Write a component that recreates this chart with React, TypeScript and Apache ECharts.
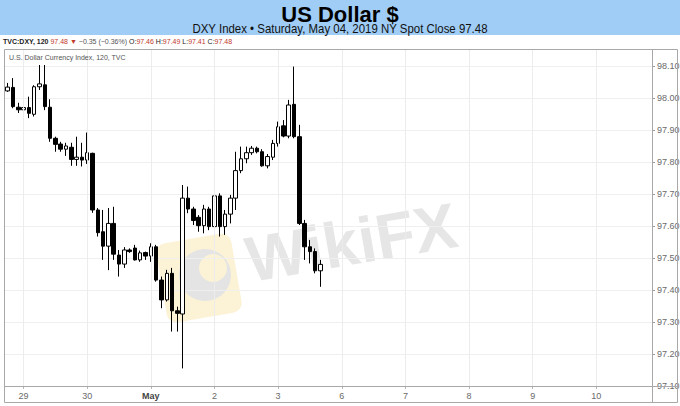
import React, { useEffect, useRef } from 'react';
import * as echarts from 'echarts';

// 120-minute candles, O / C / L / H
const opens = [
  98.022, 98.033, 97.971, 97.963, 97.970, 97.949, 98.035, 98.041, 97.971, 97.874,
  97.856, 97.840, 97.846, 97.808, 97.815, 97.806, 97.827, 97.650, 97.582, 97.537,
  97.608, 97.509, 97.481, 97.525, 97.531, 97.494, 97.517, 97.506, 97.535, 97.431,
  97.369, 97.452, 97.335, 97.325, 97.687, 97.653, 97.627, 97.601, 97.653, 97.598,
  97.694, 97.598, 97.637, 97.687, 97.773, 97.810, 97.829, 97.843, 97.832, 97.788,
  97.815, 97.858, 97.913, 97.881, 97.980, 97.879, 97.608, 97.535, 97.520, 97.460,
];
const closes = [
  98.034, 97.973, 97.963, 97.970, 97.952, 98.035, 98.044, 97.973, 97.874, 97.855,
  97.840, 97.850, 97.808, 97.815, 97.806, 97.829, 97.650, 97.579, 97.537, 97.608,
  97.512, 97.481, 97.525, 97.520, 97.494, 97.516, 97.506, 97.535, 97.431, 97.369,
  97.452, 97.335, 97.327, 97.687, 97.653, 97.617, 97.601, 97.653, 97.598, 97.694,
  97.598, 97.637, 97.687, 97.773, 97.810, 97.829, 97.843, 97.832, 97.788, 97.817,
  97.858, 97.910, 97.881, 97.978, 97.879, 97.608, 97.535, 97.520, 97.460, 97.480,
];
const lows = [
  98.019, 97.968, 97.953, 97.922, 97.937, 97.942, 98.025, 97.962, 97.863, 97.832,
  97.832, 97.819, 97.788, 97.788, 97.786, 97.794, 97.641, 97.567, 97.494, 97.462,
  97.494, 97.442, 97.469, 97.516, 97.492, 97.488, 97.494, 97.488, 97.426, 97.343,
  97.364, 97.270, 97.270, 97.155, 97.640, 97.603, 97.582, 97.577, 97.587, 97.582,
  97.567, 97.572, 97.608, 97.650, 97.765, 97.796, 97.822, 97.827, 97.785, 97.780,
  97.806, 97.848, 97.877, 97.874, 97.874, 97.603, 97.494, 97.483, 97.452, 97.410,
];
const highs = [
  98.047, 98.062, 97.985, 97.985, 98.004, 98.040, 98.103, 98.103, 97.996, 97.879,
  97.863, 97.860, 97.860, 97.879, 97.860, 97.892, 97.829, 97.656, 97.650, 97.656,
  97.660, 97.525, 97.534, 97.530, 97.541, 97.523, 97.520, 97.546, 97.541, 97.442,
  97.463, 97.469, 97.348, 97.728, 97.723, 97.660, 97.634, 97.666, 97.660, 97.702,
  97.702, 97.650, 97.697, 97.832, 97.848, 97.848, 97.850, 97.848, 97.840, 97.825,
  97.869, 97.926, 97.931, 97.994, 98.098, 97.916, 97.619, 97.556, 97.530, 97.494,
];

const slotCount = 122;
const dayLabelIndex = [3, 15, 27, 39, 51, 63, 75, 87, 99, 111];
const dayLabels = ['29', '30', 'May', '2', '3', '6', '7', '8', '9', '10'];
const lastClose = 97.48;
const yMin = 97.1;
const yMax = 98.153;
const yStep = 0.1;

const FONT = "'Liberation Sans', Arial, sans-serif";

export default function App() {
  const ref = useRef<HTMLDivElement>(null);

  useEffect(() => {
    document.body.style.margin = '0';
    const chart = echarts.init(ref.current!, null, { renderer: 'svg' });
    const categories = Array.from({ length: slotCount }, (_, i) => String(i));
    const candleData = opens.map((o, i) => [o, closes[i], lows[i], highs[i]]);
    const labelMap = new Map<number, string>(dayLabelIndex.map((idx, k) => [idx, dayLabels[k]]));

    const gridTop = 49;
    const gridH = 337;
    const gridBottomY = gridTop + gridH;

    chart.setOption({
      animation: false,
      backgroundColor: '#ffffff',
      textStyle: { fontFamily: FONT },
      grid: { left: 5, top: gridTop, width: 647, height: gridH, outerBoundsMode: 'none' },
      xAxis: {
        type: 'category',
        data: categories,
        boundaryGap: true,
        axisLine: { show: false },
        axisTick: {
          show: true,
          alignWithLabel: true,
          interval: (i: number) => labelMap.has(i),
          length: 3,
          lineStyle: { color: '#b5b5b5' },
        },
        axisLabel: {
          interval: (i: number) => labelMap.has(i),
          formatter: (_v: string, i: number) => {
            const t = labelMap.get(i) || '';
            return t === 'May' ? '{m|May}' : t;
          },
          color: '#6a6a6a',
          fontSize: 9,
          margin: 5,
          rich: { m: { fontWeight: 'bold', color: '#444444', fontSize: 9 } },
        },
        splitLine: { show: false },
      },
      yAxis: {
        type: 'value',
        position: 'right',
        min: yMin,
        max: yMax,
        interval: yStep,
        scale: true,
        axisLine: { show: false },
        axisTick: { show: true, length: 3, lineStyle: { color: '#9a9a9a' } },
        axisLabel: {
          formatter: (v: number) => v.toFixed(2),
          color: '#6a6a6a',
          fontSize: 9,
          margin: 5,
          showMaxLabel: false,
        },
        splitLine: { show: true, lineStyle: { color: '#efefef', width: 1 } },
      },
      series: [
        {
          type: 'line',
          data: [],
          z: 1,
          silent: true,
          markLine: {
            silent: true,
            symbol: ['none', 'none'],
            label: { show: false },
            lineStyle: { color: '#ececec', type: 'solid', width: 1 },
            data: dayLabelIndex.map((i) => ({ xAxis: categories[i] })),
          },
        },
        {
          type: 'candlestick',
          data: candleData,
          barWidth: 4,
          clip: false,
          z: 3,
          itemStyle: {
            color: '#ffffff',
            color0: '#000000',
            borderColor: '#000000',
            borderColor0: '#000000',
            borderWidth: 1,
          },
          markLine: {
            silent: true,
            symbol: ['none', 'none'],
            lineStyle: { opacity: 0 },
            data: [{ yAxis: lastClose }],
            label: {
              show: true,
              position: 'end',
              formatter: lastClose.toFixed(2),
              color: '#222222',
              fontSize: 9,
              backgroundColor: '#ffffff',
              padding: [1, 1, 0, 1],
              distance: 4,
            },
          },
        },
      ],
      graphic: [
        { type: 'rect', z: 0, shape: { x: 0, y: 0, width: 680, height: 35 }, style: { fill: '#a0cdf5' } },
        {
          type: 'text', z: 10, x: 340, y: 14,
          style: { text: 'US Dollar $', fontSize: 22, fontWeight: 'bold', fontFamily: FONT, fill: '#000', align: 'center', verticalAlign: 'middle' },
        },
        {
          type: 'text', z: 10, x: 340, y: 28.5, scaleX: 0.88,
          style: {
            text: 'DXY Index \u2022 Saturday, May 04, 2019 NY Spot Close 97.48',
            fontSize: 13, fontFamily: FONT,
            fill: '#111', align: 'center', verticalAlign: 'middle',
          },
        },
        {
          type: 'text', z: 10, x: 3, y: 41,
          style: {
            text: '{b|TVC:DXY, 120} {r|97.48 \u25BC} {g|\u22120.35 (\u22120.36%)} {k|O:}{r|97.46} {k|H:}{r|97.49} {k|L:}{r|97.41} {k|C:}{r|97.48}',
            verticalAlign: 'middle',
            fontFamily: FONT,
            fontSize: 7,
            rich: {
              b: { fontSize: 7, fontWeight: 'bold', fill: '#222', fontFamily: FONT },
              r: { fontSize: 7, fill: '#c0392b', fontFamily: FONT },
              g: { fontSize: 7, fill: '#555', fontFamily: FONT },
              k: { fontSize: 7, fill: '#222', fontFamily: FONT },
            },
          },
        },
        {
          type: 'text', z: 10, x: 9, y: 57,
          style: { text: 'U.S. Dollar Currency Index, 120, TVC', fontSize: 7, fontFamily: FONT, fill: '#555', verticalAlign: 'middle' },
        },
        // watermark logo
        {
          type: 'rect', z: 0, x: 199, y: 278, rotation: 0.17,
          shape: { x: -38, y: -40, width: 76, height: 80, r: 10 },
          style: { fill: '#fcf2d6' },
        },
        { type: 'circle', z: 0, shape: { cx: 205, cy: 275, r: 26 }, style: { fill: '#e4e4e4' } },
        { type: 'circle', z: 0, shape: { cx: 213, cy: 268, r: 14 }, style: { fill: '#fcf2d6' } },
        {
          type: 'text', z: 0, x: 252, y: 292, rotation: 0.17,
          style: { text: 'WikiFX', fontSize: 64, fontWeight: 'bold', fontFamily: FONT, fill: '#e6e6e6', verticalAlign: 'bottom' },
        },
        // frame
        {
          type: 'rect', z: 20, silent: true,
          shape: { x: 4.5, y: 49.5, width: 673, height: 353 },
          style: { fill: 'none', stroke: '#a8a8a8', lineWidth: 1 },
        },
        {
          type: 'line', z: 20, silent: true,
          shape: { x1: 652.5, y1: 49.5, x2: 652.5, y2: 402.5 },
          style: { stroke: '#a8a8a8', lineWidth: 1 },
        },
        {
          type: 'line', z: 20, silent: true,
          shape: { x1: 4.5, y1: gridBottomY + 0.5, x2: 677.5, y2: gridBottomY + 0.5 },
          style: { stroke: '#a8a8a8', lineWidth: 1 },
        },
      ],
    });

    return () => chart.dispose();
  }, []);

  return <div ref={ref} style={{ width: 680, height: 406 }} />;
}
